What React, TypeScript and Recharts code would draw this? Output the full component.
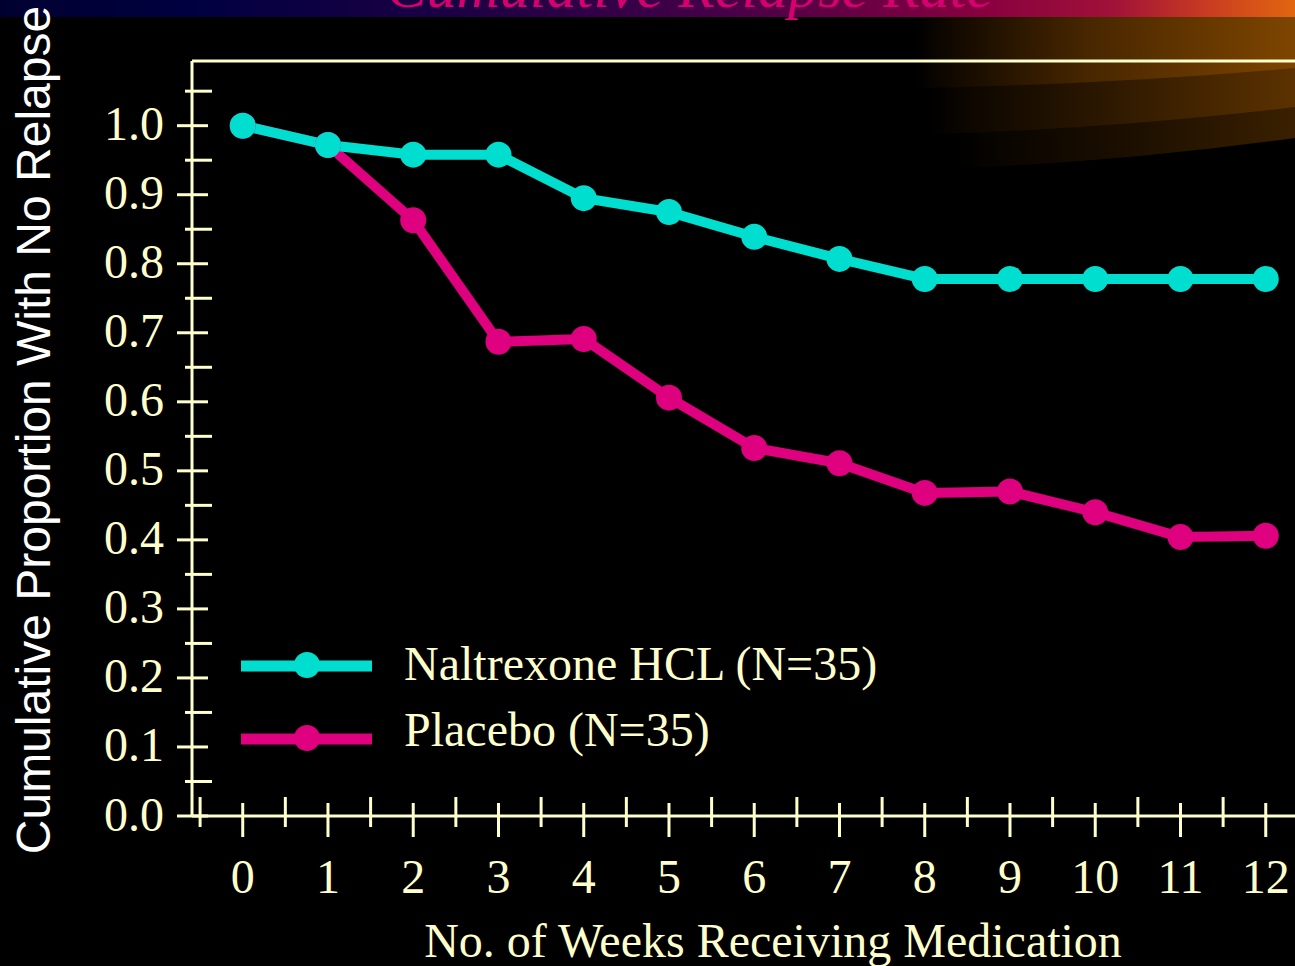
import React from 'react';
import { LineChart, Line, XAxis, YAxis, Legend, ReferenceLine } from 'recharts';

const weeks = [0, 1, 2, 3, 4, 5, 6, 7, 8, 9, 10, 11, 12];
const naltrexone = [1.0, 0.972, 0.958, 0.958, 0.895, 0.875, 0.839, 0.807, 0.778, 0.778, 0.778, 0.778, 0.778];
const placebo = [1.0, 0.972, 0.863, 0.687, 0.691, 0.606, 0.533, 0.511, 0.468, 0.470, 0.440, 0.404, 0.406];

const xTicks = [-0.5, 0, 0.5, 1, 1.5, 2, 2.5, 3, 3.5, 4, 4.5, 5, 5.5, 6, 6.5, 7, 7.5, 8, 8.5, 9, 9.5, 10, 10.5, 11, 11.5, 12, 12.5];
const yTicks = [0, 0.05, 0.1, 0.15, 0.2, 0.25, 0.3, 0.35, 0.4, 0.45, 0.5, 0.55, 0.6, 0.65, 0.7, 0.75, 0.8, 0.85, 0.9, 0.95, 1.0, 1.05];
const xDomain = [-0.595, 13];
const yDomain = [0, 1.0937];

const seriesNames = { naltrexone: 'Naltrexone HCL (N=35)', placebo: 'Placebo (N=35)' };
const title = 'Cumulative Relapse Rate';
const xTitle = 'No. of Weeks Receiving Medication';
const yTitle = 'Cumulative Proportion With No Relapse';

const data = weeks.map((w, i) => ({ week: w, naltrexone: naltrexone[i], placebo: placebo[i] }));

const AXIS = '#ffffcc';
const CYAN = '#00dfcf';
const MAGENTA = '#de007e';
const SERIF = '"Liberation Serif", "Times New Roman", serif';
const SANS = '"Liberation Sans", Arial, sans-serif';

const XTick = (props: any) => {
  const { x, y, payload } = props;
  const v = payload.value as number;
  const major = Math.abs(v - Math.round(v)) < 1e-6;
  return (
    <g>
      <line x1={x} x2={x} y1={major ? y - 13 : y - 19} y2={major ? y + 21 : y + 11} stroke={AXIS} strokeWidth={3} />
      {major && (
        <text x={x} y={y + 77} textAnchor="middle" fontFamily={SERIF} fontSize={48} fill={AXIS}>
          {v}
        </text>
      )}
    </g>
  );
};

const YTick = (props: any) => {
  const { x, y, payload } = props;
  const v = payload.value as number;
  const major = Math.round(v * 100) % 10 === 0;
  return (
    <g>
      <line x1={major ? x - 15 : x - 7} x2={major ? x + 16 : x + 20} y1={y} y2={y} stroke={AXIS} strokeWidth={3} />
      {major && (
        <text x={x - 28} y={y + 14.5} textAnchor="end" fontFamily={SERIF} fontSize={48} fill={AXIS}>
          {v.toFixed(1)}
        </text>
      )}
    </g>
  );
};

const LegendContent = (props: any) => {
  const payload = (props.payload || []) as any[];
  const order = [seriesNames.naltrexone, seriesNames.placebo];
  const items = [...payload].sort((a, b) => order.indexOf(a.value) - order.indexOf(b.value));
  return (
    <svg width={700} height={140} style={{ display: 'block' }}>
      {items.map((it, i) => {
        const cy = 36 + i * 73;
        return (
          <g key={it.value}>
            <line x1={11} x2={142} y1={cy} y2={cy} stroke={it.color} strokeWidth={11} />
            <circle cx={77} cy={cy - 1} r={13} fill={it.color} />
            <text x={174} y={cy + 14 - i * 7} fontFamily={SERIF} fontSize={48} fill={AXIS}>
              {it.value}
            </text>
          </g>
        );
      })}
    </svg>
  );
};

const Background = () => (
  <svg width={1295} height={966} style={{ position: 'absolute', left: 0, top: 0 }}>
    <defs>
      <linearGradient id="band" x1="0" x2="1" y1="0" y2="0">
        <stop offset="0" stopColor="#000030" />
        <stop offset="0.15" stopColor="#000040" />
        <stop offset="0.35" stopColor="#1c0044" />
        <stop offset="0.55" stopColor="#440048" />
        <stop offset="0.76" stopColor="#880040" />
        <stop offset="0.86" stopColor="#a01238" />
        <stop offset="0.93" stopColor="#c83a22" />
        <stop offset="1" stopColor="#e26610" />
      </linearGradient>
      <linearGradient id="glowA" gradientUnits="userSpaceOnUse" x1="915" x2="1295" y1="0" y2="0">
        <stop offset="0" stopColor="#000000" />
        <stop offset="0.1" stopColor="#120900" />
        <stop offset="0.45" stopColor="#472600" />
        <stop offset="1" stopColor="#7e4500" />
      </linearGradient>
      <linearGradient id="glowB" gradientUnits="userSpaceOnUse" x1="930" x2="1295" y1="0" y2="0">
        <stop offset="0" stopColor="#000000" />
        <stop offset="0.1" stopColor="#0c0600" />
        <stop offset="0.5" stopColor="#2e1900" />
        <stop offset="1" stopColor="#5c3200" />
      </linearGradient>
      <linearGradient id="glowC" gradientUnits="userSpaceOnUse" x1="955" x2="1295" y1="0" y2="0">
        <stop offset="0" stopColor="#000000" />
        <stop offset="0.15" stopColor="#0a0500" />
        <stop offset="0.55" stopColor="#1e1000" />
        <stop offset="1" stopColor="#3a2000" />
      </linearGradient>
    </defs>
    <rect x={0} y={0} width={1295} height={966} fill="#000" />
    <path d="M 955 17 L 1295 17 L 1295 138 Q 1120 162 960 168 Q 955 168 955 160 Z" fill="url(#glowC)" />
    <path d="M 930 17 L 1295 17 L 1295 107 Q 1120 128 935 134 Q 930 134 930 126 Z" fill="url(#glowB)" />
    <path d="M 915 17 L 1295 17 L 1295 68 Q 1120 84 920 88 Q 915 88 915 80 Z" fill="url(#glowA)" />
    <rect x={0} y={0} width={1295} height={17} fill="url(#band)" />
    <text x={690} y={7} textAnchor="middle" fontFamily={SERIF} fontStyle="italic" fontSize={60} fill="#d6006e">
      {title}
    </text>
  </svg>
);

export default function App() {
  return (
    <div style={{ position: 'fixed', left: 0, top: 0, width: 1295, height: 966, overflow: 'hidden', background: '#000' }}>
      <Background />
      <div style={{ position: 'absolute', left: 0, top: 0 }}>
        <LineChart width={1351} height={966} data={data} margin={{ top: 61, right: 0, bottom: 0, left: 0 }}>
          <XAxis
            dataKey="week"
            type="number"
            domain={xDomain}
            allowDataOverflow
            ticks={xTicks}
            interval={0}
            tick={<XTick />}
            tickLine={false}
            tickSize={0}
            tickMargin={0}
            axisLine={{ stroke: AXIS, strokeWidth: 3 }}
            height={150}
            label={{
              content: () => (
                <text x={773} y={957} textAnchor="middle" fontFamily={SERIF} fontSize={48} fill={AXIS}>
                  {xTitle}
                </text>
              ),
            }}
          />
          <YAxis
            type="number"
            domain={yDomain}
            allowDataOverflow
            ticks={yTicks}
            interval={0}
            tick={<YTick />}
            tickLine={false}
            tickSize={0}
            tickMargin={0}
            axisLine={{ stroke: AXIS, strokeWidth: 3 }}
            width={192}
            label={{
              content: () => (
                <text
                  x={50}
                  y={430}
                  transform="rotate(-90 50 430)"
                  textAnchor="middle"
                  fontFamily={SANS}
                  fontSize={48}
                  fill="#ffffff"
                >
                  {yTitle}
                </text>
              ),
            }}
          />
          <ReferenceLine y={yDomain[1]} stroke={AXIS} strokeWidth={3} ifOverflow="visible" />
          <Legend
            layout="vertical"
            align="center"
            verticalAlign="middle"
            content={<LegendContent />}
            wrapperStyle={{ position: 'absolute', left: 230, top: 630, width: 700, height: 140 }}
          />
          <Line
            dataKey="placebo"
            name={seriesNames.placebo}
            stroke={MAGENTA}
            strokeWidth={10}
            strokeLinejoin="round"
            dot={{ r: 13, fill: MAGENTA, stroke: MAGENTA, strokeWidth: 0 }}
            activeDot={false}
            isAnimationActive={false}
          />
          <Line
            dataKey="naltrexone"
            name={seriesNames.naltrexone}
            stroke={CYAN}
            strokeWidth={10}
            strokeLinejoin="round"
            dot={{ r: 13, fill: CYAN, stroke: CYAN, strokeWidth: 0 }}
            activeDot={false}
            isAnimationActive={false}
          />
        </LineChart>
      </div>
    </div>
  );
}
